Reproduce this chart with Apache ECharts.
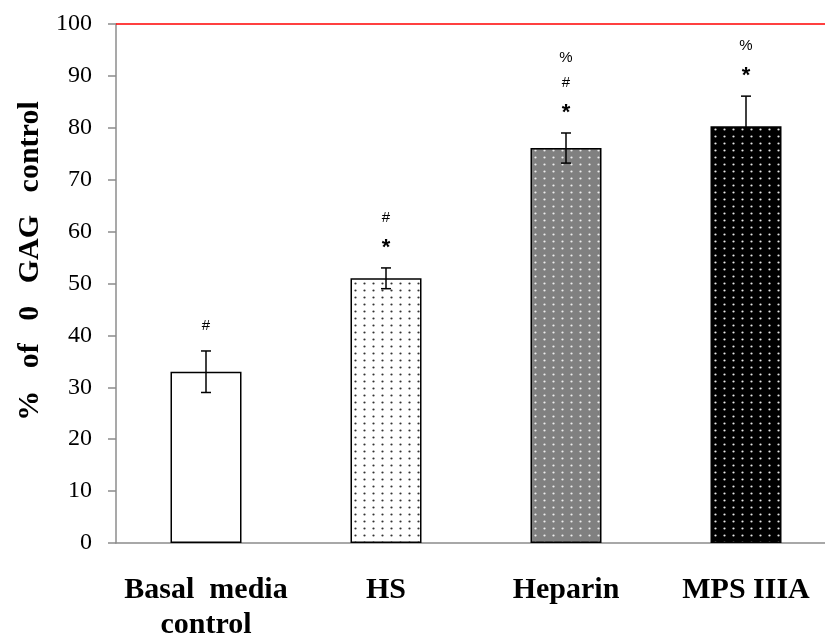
<!DOCTYPE html>
<html><head><meta charset="utf-8">
<script src="https://cdn.jsdelivr.net/npm/echarts@6/dist/echarts.min.js"></script>
<style>html,body{margin:0;padding:0;background:#fff}#c{width:825px;height:637px}</style>
</head><body><div id="c"></div>
<script>
const categories = ['Basal  media\ncontrol', 'HS', 'Heparin', 'MPS IIIA'];
const values = [33, 51, 76.1, 80.3];
const errors = [4, 2, 2.9, 5.8];
const annotations = [['#'], ['*', '#'], ['*', '#', '%'], ['*', '%']];
const yTicks = [0, 10, 20, 30, 40, 50, 60, 70, 80, 90, 100];

function dotPattern(bg, dot) {
  const c = document.createElement('canvas');
  c.width = 9; c.height = 7;
  const g = c.getContext('2d');
  g.fillStyle = bg; g.fillRect(0, 0, 9, 7);
  g.fillStyle = dot; g.beginPath(); g.arc(4.5, 3.5, 1.1, 0, Math.PI * 2); g.fill();
  return { image: c, repeat: 'repeat' };
}
const fills = ['#ffffff', dotPattern('#ffffff', '#333'), dotPattern('#808080', '#eeeeee'), dotPattern('#000000', '#e8e8e8')];

const chart = echarts.init(document.getElementById('c'), null, { renderer: 'canvas' });
chart.setOption({
  animation: false,
  grid: { left: 116, top: 24, width: 720, height: 519, containLabel: false, outerBoundsMode: 'none' },
  xAxis: {
    type: 'category', data: categories,
    axisLine: { lineStyle: { color: '#8c8c8c', width: 1.5 } },
    axisTick: { show: false },
    axisLabel: { interval: 0, fontFamily: 'Liberation Serif', fontWeight: 'bold', fontSize: 30, color: '#000', margin: 30, lineHeight: 35 }
  },
  yAxis: {
    type: 'value', min: 0, max: 100, interval: 10,
    name: '      %   of   0   GAG   control', nameLocation: 'middle', nameGap: 48,
    nameTextStyle: { fontFamily: 'Liberation Serif', fontWeight: 'bold', fontSize: 30, color: '#000' },
    axisLine: { show: true, lineStyle: { color: '#8c8c8c', width: 1.5 } },
    axisTick: { show: true, length: 8, lineStyle: { color: '#8c8c8c', width: 1.5 } },
    splitLine: { show: false },
    axisLabel: { fontFamily: 'Liberation Serif', fontSize: 24, color: '#000', margin: 24,
      formatter: v => yTicks.includes(v) ? String(v) : '' }
  },
  series: [
    {
      type: 'bar', barWidth: 71,
      data: values.map((v, i) => ({ value: v, itemStyle: { color: fills[i], borderColor: '#000', borderWidth: 1.5 } })),
      markLine: { silent: true, symbol: 'none', label: { show: false },
        lineStyle: { color: '#ff0000', width: 1.5, type: 'solid' },
        data: [{ yAxis: 100 }] }
    },
    {
      type: 'custom',
      data: values.map((v, i) => [i, v, errors[i]]),
      renderItem: function (params, api) {
        const i = api.value(0), v = api.value(1), e = api.value(2);
        const top = api.coord([i, v + e]);
        const bot = api.coord([i, v - e]);
        const x = top[0], hw = 5;
        const style = { stroke: '#000', lineWidth: 1.5 };
        const children = [
          { type: 'line', shape: { x1: x, y1: top[1], x2: x, y2: bot[1] }, style },
          { type: 'line', shape: { x1: x - hw, y1: top[1], x2: x + hw, y2: top[1] }, style },
          { type: 'line', shape: { x1: x - hw, y1: bot[1], x2: x + hw, y2: bot[1] }, style }
        ];
        annotations[i].forEach((s, k) => {
          const big = s === '*';
          children.push({ type: 'text', style: {
            text: s, x: x, y: top[1] - 25 - 25 * k + (big ? 5 : 0),
            align: 'center', verticalAlign: 'middle',
            font: (big ? 'bold 22px' : '15px') + ' "Liberation Sans"', fill: '#000' } });
        });
        return { type: 'group', children };
      },
      z: 5
    }
  ]
});
</script></body></html>
